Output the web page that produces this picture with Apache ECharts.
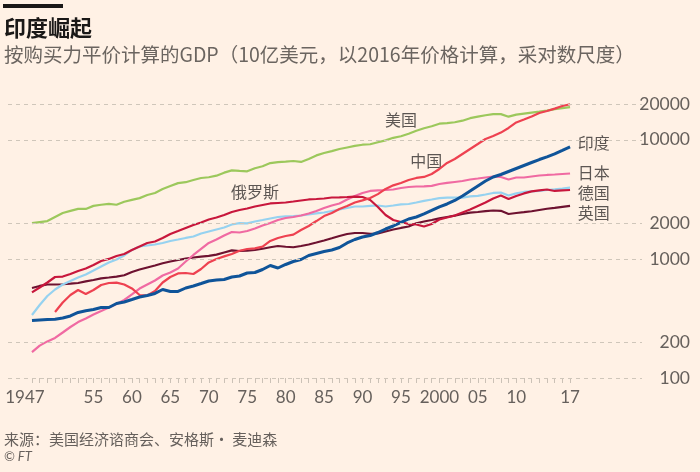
<!DOCTYPE html>
<html><head><meta charset="utf-8">
<script src="https://cdn.jsdelivr.net/npm/echarts@6/dist/echarts.min.js"></script>
<style>html,body{margin:0;padding:0;background:#fff1e5}#c{width:700px;height:472px}</style>
</head><body><div id="c"></div>
<script>
const years = [1947,1948,1949,1950,1951,1952,1953,1954,1955,1956,1957,1958,1959,1960,1961,1962,1963,1964,1965,1966,1967,1968,1969,1970,1971,1972,1973,1974,1975,1976,1977,1978,1979,1980,1981,1982,1983,1984,1985,1986,1987,1988,1989,1990,1991,1992,1993,1994,1995,1996,1997,1998,1999,2000,2001,2002,2003,2004,2005,2006,2007,2008,2009,2010,2011,2012,2013,2014,2015,2016,2017];
const xLabelYears = [1947,1955,1960,1965,1970,1975,1980,1985,1990,1995,2000,2005,2010,2017];
const yTicks = [100,200,1000,2000,10000,20000];

const usa = [2000,2040,2080,2250,2430,2530,2630,2630,2790,2850,
  2900,2850,3020,3130,3240,3440,3580,3860,4090,4330,
  4410,4600,4780,4850,5000,5300,5540,5480,5440,5780,
  6000,6380,6500,6560,6640,6520,6910,7400,7750,8040,
  8370,8630,8900,9100,9180,9540,9900,10400,10720,11240,
  11910,12500,13000,13660,13800,14050,14480,15200,15650,16100,
  16430,16430,15650,16270,16600,16920,17250,17600,18100,18480,18850];
const china = [null,null,null,358,431,498,548,508,548,604,
  628,632,610,565,498,493,537,634,705,755,
  762,747,823,934,1000,1050,1100,1170,1212,1225,
  1270,1415,1500,1558,1600,1750,1890,2080,2290,2430,
  2630,2785,2978,3100,3245,3500,3870,4150,4345,4600,
  4787,4880,5170,5690,6394,6900,7610,8380,9230,10170,
  10770,11500,12580,14000,14820,15700,16800,17470,18300,19230,19900];
const india = [304,307,310,311,319,332,355,367,376,391,
  391,422,435,456,479,493,513,554,533,533,
  570,593,622,653,665,672,705,719,762,769,
  815,881,839,898,951,989,1069,1111,1154,1189,
  1248,1361,1456,1528,1573,1667,1783,1890,2024,2164,
  2250,2385,2553,2740,2893,3096,3379,3722,4096,4510,
  4879,5118,5424,5746,6088,6450,6833,7184,7610,8140,8710];
const japan = [165,187,203,217,241,268,295,316,341,365,
  391,418,452,503,564,610,659,726,769,831,
  951,1079,1212,1361,1456,1573,1683,1667,1716,1803,
  1909,2005,2123,2207,2250,2316,2409,2527,2677,2810,
  2922,3157,3379,3580,3722,3770,3793,3830,3942,4018,
  4057,4073,4110,4260,4345,4428,4510,4645,4733,4830,
  4924,4879,4645,4830,4830,4924,5020,5070,5118,5167,5216];
const germany = [338,410,488,554,610,653,698,740,799,864,
  933,989,1069,1189,1271,1297,1322,1361,1415,1456,
  1500,1543,1636,1700,1767,1837,1946,2000,1990,2063,
  2123,2186,2250,2280,2290,2316,2361,2409,2455,2527,
  2601,2677,2757,2757,2785,2810,2757,2810,2870,2893,
  2978,3073,3157,3245,3275,3275,3275,3350,3380,3475,
  3580,3610,3410,3550,3650,3690,3720,3793,3840,3900,3970];
const russia = [523,575,634,705,711,747,792,831,889,961,
  1000,1059,1100,1189,1271,1361,1401,1500,1620,1716,
  1820,1928,2024,2143,2229,2338,2478,2576,2653,2757,
  2838,2922,2950,2978,3036,3096,3157,3187,3218,3280,
  3290,3311,3333,3311,3126,2730,2338,2123,2042,1965,
  1946,1872,1965,2143,2229,2316,2455,2601,2785,2978,
  3218,3410,3187,3379,3548,3690,3760,3830,3722,3760,3793];
const uk = [570,593,610,610,613,620,628,647,665,687,
  698,711,729,777,815,848,881,919,951,980,
  1005,1028,1045,1059,1086,1133,1181,1166,1172,1189,
  1218,1253,1284,1265,1253,1284,1322,1374,1429,1491,
  1558,1620,1651,1651,1625,1635,1700,1767,1820,1872,
  1991,2063,2123,2193,2250,2307,2385,2445,2478,2518,
  2551,2535,2385,2430,2470,2515,2576,2637,2687,2740,2785];

const labelNames = ['美国','中国','俄罗斯','印度','日本','德国','英国'];
const labelYears = [1995.0,1998.3,1976.0,2018.0,2018.0,2018.0,2018.0];
const labelValues = [14700,6650,3650,9400,5270,3580,2430];
const labelAlign = ['center','center','center','left','left','left','left'];

const chart = echarts.init(document.getElementById('c'));
const pair = arr => years.map((y,i)=>[y, arr[i]]);
const mk = (name, arr, color, width) => ({
  name, type:'line', data: pair(arr), showSymbol:false, symbol:'none',
  connectNulls:false, clip:false,
  lineStyle:{color, width}, itemStyle:{color}
});
const uiFont = "'Lato','Noto Sans CJK SC',sans-serif";
const cjk = "'Noto Sans CJK SC',sans-serif";

const gridSeries = {
  name:'grid', type:'line', data:[], silent:true,
  markLine:{
    silent:true, symbol:['none','none'], animation:false,
    label:{show:false},
    lineStyle:{type:[4,4], color:'#cfc6ba', width:1},
    data: yTicks.map(v=>({yAxis:v}))
  }
};

chart.setOption({
  animation:false,
  backgroundColor:'#fff1e5',
  textStyle:{fontFamily:uiFont},
  title:[
    {text:'印度崛起', left:4, top:17, padding:0, textStyle:{fontSize:22, fontWeight:'bold', color:'#1a1817', fontFamily:cjk}},
    {text:'按购买力平价计算的GDP（10亿美元，以2016年价格计算，采对数尺度）', left:4, top:45, padding:0, textStyle:{fontSize:19.5, fontWeight:'normal', color:'#6b6560', fontFamily:cjk}},
    {text:'来源：美国经济谘商会、安格斯· 麦迪森', left:4, top:432, padding:0, textStyle:{fontSize:15, fontWeight:'normal', color:'#66605c', fontFamily:cjk}},
    {text:'© FT', left:4, top:450, padding:0, textStyle:{fontSize:13, fontWeight:'normal', fontStyle:'italic', color:'#66605c', fontFamily:uiFont}}
  ],
  graphic:[{type:'rect', shape:{x:3, y:4, width:60, height:4}, style:{fill:'#1a1817'}}],
  grid:{left:8, right:58, top:104, bottom:94, containLabel:false},
  xAxis:{
    type:'value', min:1943.88, max:2026.36,
    axisLine:{show:false}, splitLine:{show:false},
    axisTick:{show:true, customValues:years, length:5, lineStyle:{color:'#cbc1b6', width:1}},
    axisLabel:{
      customValues:xLabelYears, color:'#66605c', fontSize:17, margin:11, fontFamily:uiFont,
      formatter: v => v===1947 ? '{a|1947}' : (v===2000 ? '2000' : String(v).slice(2)),
      rich:{a:{fontSize:17, color:'#66605c', fontFamily:uiFont, padding:[0,14,0,0]}}
    }
  },
  yAxis:{
    type:'log', logBase:10, min:100, max:20000, position:'right',
    axisLine:{show:false}, axisTick:{show:false}, splitLine:{show:false},
    axisLabel:{customValues:yTicks, align:'right', margin:48, fontSize:17.5, color:'#66605c', fontFamily:uiFont,
      formatter: v => String(Math.round(v))}
  },
  series:[
    gridSeries,
    mk('英国', uk, '#6e1230', 2.2),
    mk('德国', germany, '#96d2f0', 2.2),
    mk('日本', japan, '#f06aa2', 2.2),
    mk('俄罗斯', russia, '#c8173c', 2.2),
    mk('美国', usa, '#9cc85c', 2.2),
    mk('中国', china, '#ee4150', 2.2),
    mk('印度', india, '#0f5499', 3),
    {
      name:'labels', type:'scatter', symbolSize:1, silent:true,
      itemStyle:{color:'rgba(0,0,0,0)'},
      data: labelNames.map((n,i)=>({name:n, value:[labelYears[i], labelValues[i]],
        label:{align:labelAlign[i]}})),
      label:{show:true, position:'inside', formatter:p=>p.name, fontSize:16, color:'#33302e', fontFamily:cjk}
    }
  ]
});
</script>
</body></html>
